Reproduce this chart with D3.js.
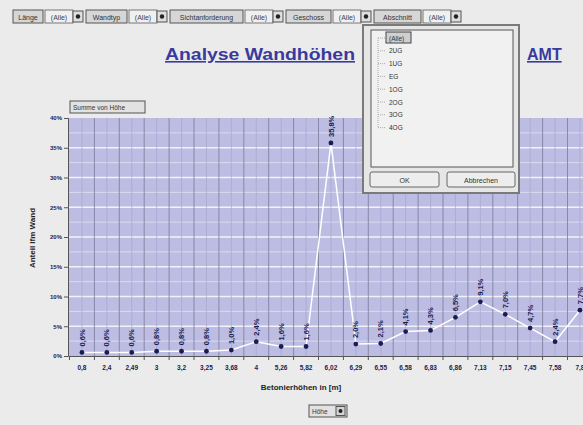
<!DOCTYPE html>
<html>
<head>
<meta charset="utf-8">
<script src="https://cdn.jsdelivr.net/npm/d3@7"></script>
<style>
  body { margin: 0; background: #ebebeb; }
  svg { display: block; font-family: "Liberation Sans", Arial, sans-serif; }
</style>
</head>
<body>
<svg id="chart" width="583" height="425"></svg>
<script>
// Chart data
const categories = ["0,8", "2,4", "2,49", "3", "3,2", "3,25", "3,68", "4", "5,26", "5,82", "6,02",
  "6,29", "6,55", "6,58", "6,83", "6,86", "7,13", "7,15", "7,45", "7,58", "7,8"];
const shares = [0.6, 0.6, 0.6, 0.8, 0.8, 0.8, 1.0, 2.4, 1.6, 1.6, 35.8,
  2.0, 2.1, 4.1, 4.3, 6.5, 9.1, 7.0, 4.7, 2.4, 7.7];
const yTicks = [0, 5, 10, 15, 20, 25, 30, 35, 40];
const filterFields = ["Länge", "Wandtyp", "Sichtanforderung", "Geschoss", "Abschnitt"];
const popupItems = ["(Alle)", "2UG", "1UG", "EG", "1OG", "2OG", "3OG", "4OG"];

const fmtPct = (v) => `${d3.format(".1f")(v).replace(".", ",")}%`;

const svg = d3.select("#chart");
const navy = "#1c1c52";

svg.append("rect").attr("width", 583).attr("height", 425).attr("fill", "#ebebeb");

// ---- filter bar on top
const fieldWidths = [30, 41, 73, 45, 47];
let fx = 13;
filterFields.forEach((f, i) => {
  const g = svg.append("g").attr("transform", `translate(${fx},10)`);
  g.append("rect").attr("width", fieldWidths[i]).attr("height", 13)
    .attr("fill", "#d6d6d6").attr("stroke", "#555");
  g.append("text").attr("x", fieldWidths[i] / 2).attr("y", 9.5)
    .attr("text-anchor", "middle").attr("font-size", 7).attr("fill", "#333").text(f);
  const vx = fieldWidths[i] + 2;
  g.append("rect").attr("x", vx).attr("width", 28).attr("height", 13)
    .attr("fill", "#f0f0f0").attr("stroke", "#777");
  g.append("text").attr("x", vx + 14).attr("y", 9.5)
    .attr("text-anchor", "middle").attr("font-size", 7).attr("fill", "#444").text("(Alle)");
  g.append("rect").attr("x", vx + 28).attr("y", 1).attr("width", 10).attr("height", 11)
    .attr("fill", "#dedede").attr("stroke", "#555");
  g.append("circle").attr("cx", vx + 33).attr("cy", 6.5).attr("r", 2.2).attr("fill", "#222");
  fx += vx + 28 + 13;
});

// ---- title (its middle part is hidden behind the open filter popup)
const title = svg.append("text").attr("y", 60)
  .attr("font-size", 16).attr("font-weight", "bold").attr("fill", "#3a3a9c")
  .attr("text-decoration", "underline");
title.append("tspan").attr("x", 165)
  .attr("textLength", 190).attr("lengthAdjust", "spacingAndGlyphs")
  .text("Analyse Wandhöhen");
title.append("tspan").attr("x", 527).text("AMT");

// ---- plot
const plotLeft = 68, plotTop = 118, plotBottom = 356;
const x = d3.scaleBand().domain(categories).range([69.5, 69.5 + 24.9 * categories.length]);
const y = d3.scaleLinear().domain([0, 40]).range([plotBottom, plotTop]);

svg.append("rect").attr("x", plotLeft).attr("y", plotTop)
  .attr("width", 583 - plotLeft).attr("height", plotBottom - plotTop).attr("fill", "#bdbde3");

const grid = svg.append("g");
grid.selectAll("line.h").data(d3.range(2.5, 40, 2.5)).enter().append("line")
  .attr("x1", plotLeft).attr("x2", 583)
  .attr("y1", (d) => y(d)).attr("y2", (d) => y(d))
  .attr("stroke", "#fff").attr("stroke-opacity", (d) => (d % 5 === 0 ? 0.8 : 0.45))
  .attr("stroke-width", (d) => (d % 5 === 0 ? 1.3 : 1));
grid.selectAll("line.center").data(categories).enter().append("line")
  .attr("x1", (d) => x(d) + x.bandwidth() / 2).attr("x2", (d) => x(d) + x.bandwidth() / 2)
  .attr("y1", plotTop).attr("y2", plotBottom)
  .attr("stroke", "#a6a6cc").attr("stroke-width", 0.7);
grid.selectAll("line.bound").data(categories.slice(1)).enter().append("line")
  .attr("x1", (d) => x(d)).attr("x2", (d) => x(d))
  .attr("y1", plotTop).attr("y2", plotBottom)
  .attr("stroke", "#7a7a98").attr("stroke-width", 0.8);

// axes
const yAxis = svg.append("g").attr("transform", `translate(${plotLeft},0)`)
  .call(d3.axisLeft(y).tickValues(yTicks).tickFormat((d) => d + "%").tickSize(4).tickPadding(2));
yAxis.select(".domain").attr("stroke", "#555");
yAxis.selectAll(".tick line").attr("stroke", "#555");
yAxis.selectAll("text").attr("font-size", 6).attr("font-weight", "bold")
  .attr("fill", navy).attr("font-family", "Liberation Sans, Arial, sans-serif");

const xAxis = svg.append("g").attr("transform", `translate(0,${plotBottom})`)
  .call(d3.axisBottom(x).tickSize(0).tickPadding(9));
xAxis.select(".domain").attr("stroke", "#555").attr("stroke-width", 1.2);
xAxis.selectAll("text").attr("font-size", 6.5).attr("font-weight", "bold")
  .attr("fill", navy).attr("font-family", "Liberation Sans, Arial, sans-serif");
xAxis.selectAll("line.bt").data(categories).enter().append("line")
  .attr("x1", (d) => x(d)).attr("x2", (d) => x(d)).attr("y1", 0).attr("y2", 4)
  .attr("stroke", "#555");

// line and markers
const pts = categories.map((c, i) => ({ c, v: shares[i] }));
svg.append("path").datum(pts)
  .attr("d", d3.line().x((d) => x(d.c) + x.bandwidth() / 2).y((d) => y(d.v)))
  .attr("fill", "none").attr("stroke", "#fff").attr("stroke-width", 1.5);
svg.selectAll("circle.pt").data(pts).enter().append("circle")
  .attr("cx", (d) => x(d.c) + x.bandwidth() / 2).attr("cy", (d) => y(d.v))
  .attr("r", 2.4).attr("fill", navy);
svg.selectAll("text.lbl").data(pts).enter().append("text")
  .attr("transform", (d) => `translate(${x(d.c) + x.bandwidth() / 2},${y(d.v) - 6}) rotate(-90)`)
  .attr("dy", "0.35em").attr("font-size", 7.5).attr("font-weight", "bold").attr("fill", navy)
  .text((d) => fmtPct(d.v));

// axis titles
svg.append("text").attr("transform", "translate(35,238) rotate(-90)")
  .attr("text-anchor", "middle").attr("font-size", 8).attr("font-weight", "bold").attr("fill", "#222")
  .text("Anteil lfm Wand");
svg.append("text").attr("x", 301).attr("y", 390)
  .attr("text-anchor", "middle").attr("font-size", 8).attr("font-weight", "bold").attr("fill", "#222")
  .text("Betonierhöhen in [m]");

// data field buttons
const btn = (bx, by, w, label, arrow) => {
  const g = svg.append("g").attr("transform", `translate(${bx},${by})`);
  g.append("rect").attr("width", w).attr("height", 12).attr("fill", "#e2e2e2").attr("stroke", "#555");
  g.append("text").attr("x", 3).attr("y", 8.8).attr("font-size", 6.5).attr("fill", "#333").text(label);
  if (arrow) {
    g.append("rect").attr("x", w - 11).attr("y", 1.5).attr("width", 9).attr("height", 9)
      .attr("fill", "#d4d4d4").attr("stroke", "#555");
    g.append("circle").attr("cx", w - 6.5).attr("cy", 6).attr("r", 2).attr("fill", "#222");
  }
};
btn(70, 101, 75, "Summe von Höhe", false);
btn(309, 405, 38, "Höhe", true);

// ---- open filter popup
const pop = svg.append("g");
pop.append("rect").attr("x", 363).attr("y", 25).attr("width", 156).attr("height", 168)
  .attr("fill", "#e6e6e6").attr("stroke", "#7a7a7a").attr("stroke-width", 2);
pop.append("rect").attr("x", 371).attr("y", 30).attr("width", 142).attr("height", 137)
  .attr("fill", "#f1f1f1").attr("stroke", "#555");
pop.append("line").attr("x1", 378).attr("x2", 378).attr("y1", 38).attr("y2", 128)
  .attr("stroke", "#aaa").attr("stroke-dasharray", "1,1");
popupItems.forEach((it, i) => {
  const iy = 38 + 12.8 * i;
  pop.append("line").attr("x1", 378).attr("x2", 386).attr("y1", iy).attr("y2", iy)
    .attr("stroke", "#aaa").attr("stroke-dasharray", "1,1");
  if (i === 0) {
    pop.append("rect").attr("x", 386).attr("y", iy - 6).attr("width", 25).attr("height", 11)
      .attr("fill", "#cfcfcf").attr("stroke", "#444");
  }
  pop.append("text").attr("x", 389).attr("y", iy + 2.5).attr("font-size", 6.5).attr("fill", "#333").text(it);
});
[["OK", 370, 69], ["Abbrechen", 447, 68]].forEach(([t, bx, w]) => {
  pop.append("rect").attr("x", bx).attr("y", 172).attr("width", w).attr("height", 15).attr("rx", 2)
    .attr("fill", "#ededed").attr("stroke", "#666");
  pop.append("text").attr("x", bx + w / 2).attr("y", 182.5).attr("text-anchor", "middle")
    .attr("font-size", 7).attr("fill", "#333").text(t);
});
</script>
</body>
</html>
